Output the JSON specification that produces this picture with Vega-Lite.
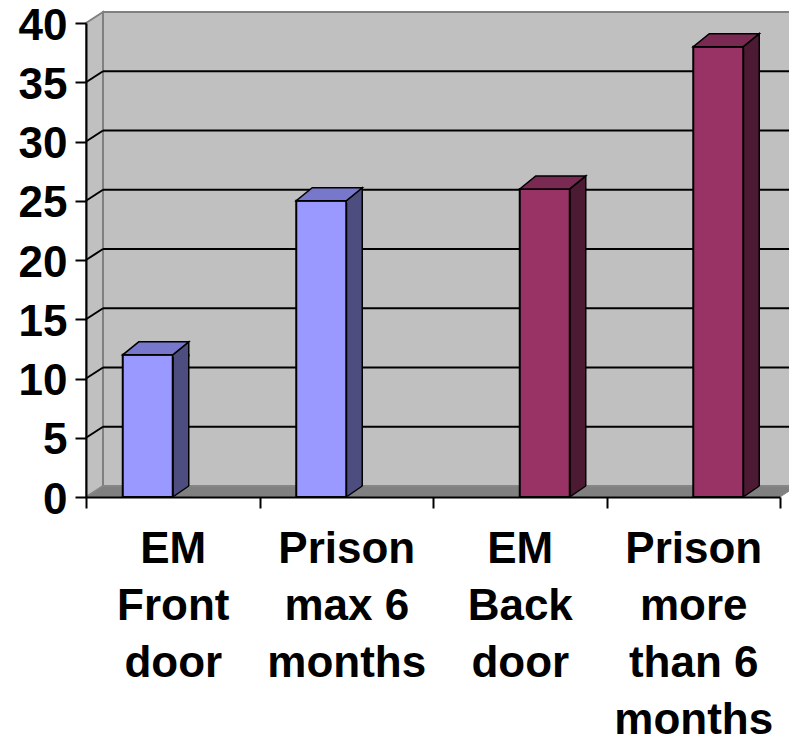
{
  "$schema": "https://vega.github.io/schema/vega-lite/v6.json",
  "width": 694,
  "height": 474,
  "autosize": "none",
  "padding": {"left": 86, "top": 23, "right": 9, "bottom": 244},
  "background": "white",
  "config": {"view": {"stroke": null}, "font": "Liberation Sans"},
  "datasets": {
    "bars": [
      {"category": "EM Front door", "series": "Front door", "value": 12},
      {"category": "Prison max 6 months", "series": "Front door", "value": 25},
      {"category": "EM Back door", "series": "Back door", "value": 26},
      {"category": "Prison more than 6 months", "series": "Back door", "value": 38}
    ],
    "grid": [{"v": 5}, {"v": 10}, {"v": 15}, {"v": 20}, {"v": 25}, {"v": 30}, {"v": 35}],
    "one": [{}]
  },
  "resolve": {"scale": {"x": "independent", "y": "independent", "xOffset": "independent"}, "axis": {"x": "independent", "y": "independent"}},
  "layer": [
    {
      "data": {"name": "one"},
      "mark": {"type": "point", "shape": "M 0 0 L 0 -474 L 17 -485 L 17 -11 Z", "size": 4, "filled": true, "fill": "#C0C0C0", "stroke": "#808080", "strokeWidth": 2, "opacity": 1},
      "encoding": {
        "x": {"datum": 0, "type": "quantitative", "scale": {"domain": [0, 4]}, "axis": null},
        "y": {"datum": 0, "type": "quantitative", "scale": {"domain": [0, 40]}, "axis": null}
      }
    },
    {
      "data": {"name": "one"},
      "mark": {"type": "rect", "fill": "#C0C0C0", "stroke": "#808080", "strokeWidth": 2},
      "encoding": {
        "x": {"datum": 0, "type": "quantitative", "scale": {"domain": [0, 4], "range": [17, 711]}, "axis": null},
        "x2": {"datum": 4},
        "y": {"datum": 0, "type": "quantitative", "scale": {"domain": [0, 40], "range": [463, -11]}, "axis": null},
        "y2": {"datum": 40}
      }
    },
    {
      "data": {"name": "one"},
      "mark": {"type": "point", "shape": "M 0 0 L 17 -11 L 711 -11 L 694 0 Z", "size": 4, "filled": true, "fill": "#808080", "stroke": "#8C8C8C", "strokeWidth": 1, "opacity": 1},
      "encoding": {
        "x": {"datum": 0, "type": "quantitative", "scale": {"domain": [0, 4]}, "axis": null},
        "y": {"datum": 0, "type": "quantitative", "scale": {"domain": [0, 40]}, "axis": null}
      }
    },
    {
      "data": {"name": "grid"},
      "mark": {"type": "rule", "stroke": "black", "strokeWidth": 2},
      "encoding": {
        "x": {"datum": 0, "type": "quantitative", "scale": {"domain": [0, 4], "range": [17, 711]}, "axis": null},
        "x2": {"datum": 4},
        "y": {"field": "v", "type": "quantitative", "scale": {"domain": [0, 40], "range": [463, -11]}, "axis": null}
      }
    },
    {
      "data": {"name": "grid"},
      "mark": {"type": "point", "shape": "M 0 0 L 17 -11", "size": 4, "filled": false, "stroke": "black", "strokeWidth": 2, "opacity": 1},
      "encoding": {
        "x": {"datum": 0, "type": "quantitative", "scale": {"domain": [0, 4]}, "axis": null},
        "y": {"field": "v", "type": "quantitative", "scale": {"domain": [0, 40]}, "axis": null}
      }
    },
    {
      "data": {"name": "bars"},
      "mark": {"type": "bar", "stroke": "black", "strokeWidth": 1.5},
      "encoding": {
        "x": {"field": "category", "type": "nominal", "scale": {"type": "band", "domain": ["EM Front door", "Prison max 6 months", "EM Back door", "Prison more than 6 months"], "range": [33, 727], "paddingInner": 0.4236, "paddingOuter": 0.2118}, "axis": null},
        "xOffset": {"field": "series", "type": "nominal", "scale": {"type": "band", "domain": ["Front door", "Back door"], "paddingInner": 0.68, "paddingOuter": 0.34}},
        "y": {"field": "value", "type": "quantitative", "scale": {"domain": [0, 40]}, "axis": null},
        "fill": {"condition": {"test": "datum.series === 'Front door'", "value": "#4D4D80"}, "value": "#4D1A33"}
      }
    },
    {
      "data": {"name": "bars"},
      "mark": {"type": "bar", "stroke": "black", "strokeWidth": 2},
      "encoding": {
        "x": {"field": "category", "type": "nominal", "scale": {"type": "band", "domain": ["EM Front door", "Prison max 6 months", "EM Back door", "Prison more than 6 months"], "paddingInner": 0.4236, "paddingOuter": 0.2118}, "axis": null},
        "xOffset": {"field": "series", "type": "nominal", "scale": {"type": "band", "domain": ["Front door", "Back door"], "paddingInner": 0, "paddingOuter": 0}},
        "y": {"field": "value", "type": "quantitative", "scale": {"domain": [0, 40], "nice": false},
          "axis": {"title": null, "values": [0, 5, 10, 15, 20, 25, 30, 35, 40], "grid": false, "domainColor": "black", "domainWidth": 2, "tickColor": "black", "tickWidth": 2, "tickSize": 11, "labelFont": "Liberation Sans", "labelFontWeight": "bold", "labelFontSize": 44, "labelPadding": 8, "labelOffset": 3, "labelColor": "black", "labelOverlap": false, "zindex": 1}},
        "fill": {"condition": {"test": "datum.series === 'Front door'", "value": "#9999FF"}, "value": "#993366"}
      }
    },
    {
      "data": {"name": "bars"},
      "mark": {"type": "point", "shape": "M 25 0 L 43 0 L 43 -11 L 41 -11 Z", "size": 4, "filled": true, "fill": "#808080", "strokeWidth": 0, "opacity": 1},
      "encoding": {
        "x": {"field": "category", "type": "nominal", "scale": {"type": "band", "domain": ["EM Front door", "Prison max 6 months", "EM Back door", "Prison more than 6 months"], "paddingInner": 0.4236, "paddingOuter": 0.2118}, "axis": null},
        "xOffset": {"field": "series", "type": "nominal", "scale": {"type": "band", "domain": ["Front door", "Back door"], "paddingInner": 0, "paddingOuter": 0}},
        "y": {"datum": 0, "type": "quantitative", "scale": {"domain": [0, 40]}, "axis": null}
      }
    },
    {
      "data": {"name": "bars"},
      "mark": {"type": "point", "shape": "M 25 0 L 41 -11", "size": 4, "filled": false, "stroke": "black", "strokeWidth": 1.5, "opacity": 1},
      "encoding": {
        "x": {"field": "category", "type": "nominal", "scale": {"type": "band", "domain": ["EM Front door", "Prison max 6 months", "EM Back door", "Prison more than 6 months"], "paddingInner": 0.4236, "paddingOuter": 0.2118}, "axis": null},
        "xOffset": {"field": "series", "type": "nominal", "scale": {"type": "band", "domain": ["Front door", "Back door"], "paddingInner": 0, "paddingOuter": 0}},
        "y": {"datum": 0, "type": "quantitative", "scale": {"domain": [0, 40]}, "axis": null}
      }
    },
    {
      "data": {"name": "bars"},
      "mark": {"type": "point", "shape": "M 25 2 L 25 0 L 41 -13 L 41 2", "size": 4, "filled": true, "stroke": "black", "strokeWidth": 1.5, "opacity": 1},
      "encoding": {
        "x": {"field": "category", "type": "nominal", "scale": {"type": "band", "domain": ["EM Front door", "Prison max 6 months", "EM Back door", "Prison more than 6 months"], "paddingInner": 0.4236, "paddingOuter": 0.2118}, "axis": null},
        "xOffset": {"field": "series", "type": "nominal", "scale": {"type": "band", "domain": ["Front door", "Back door"], "paddingInner": 0, "paddingOuter": 0}},
        "y": {"field": "value", "type": "quantitative", "scale": {"domain": [0, 40]}, "axis": null},
        "fill": {"condition": {"test": "datum.series === 'Front door'", "value": "#4D4D80"}, "value": "#4D1A33"}
      }
    },
    {
      "data": {"name": "bars"},
      "mark": {"type": "point", "shape": "M -25 0 L 25 0 L 41 -13 L -9 -13 Z", "size": 4, "filled": true, "stroke": "black", "strokeWidth": 1.5, "opacity": 1},
      "encoding": {
        "x": {"field": "category", "type": "nominal", "scale": {"type": "band", "domain": ["EM Front door", "Prison max 6 months", "EM Back door", "Prison more than 6 months"], "paddingInner": 0.4236, "paddingOuter": 0.2118}, "axis": null},
        "xOffset": {"field": "series", "type": "nominal", "scale": {"type": "band", "domain": ["Front door", "Back door"], "paddingInner": 0, "paddingOuter": 0}},
        "y": {"field": "value", "type": "quantitative", "scale": {"domain": [0, 40]}, "axis": null},
        "fill": {"condition": {"test": "datum.series === 'Front door'", "value": "#7777CC"}, "value": "#7A2952"}
      }
    },
    {
      "data": {"name": "bars"},
      "mark": {"type": "point", "opacity": 0, "size": 1},
      "encoding": {
        "x": {"field": "category", "type": "nominal", "scale": {"type": "band", "domain": ["EM Front door", "Prison max 6 months", "EM Back door", "Prison more than 6 months"], "paddingInner": 0, "paddingOuter": 0},
          "axis": {"title": null, "tickBand": "extent", "domainColor": "black", "domainWidth": 2, "tickColor": "black", "tickWidth": 2, "tickSize": 11, "labelFont": "Liberation Sans", "labelFontWeight": "bold", "labelFontSize": 44, "labelLineHeight": 57, "labelPadding": 19, "labelColor": "black", "labelAngle": 0, "labelLimit": 0, "labelOverlap": false, "zindex": 1,
            "labelExpr": "datum.label == 'Prison max 6 months' ? ['Prison', 'max 6', 'months'] : datum.label == 'Prison more than 6 months' ? ['Prison', 'more', 'than 6', 'months'] : split(datum.label, ' ')"}},
        "y": {"datum": 0, "type": "quantitative", "scale": {"domain": [0, 40]}, "axis": null}
      }
    }
  ]
}
